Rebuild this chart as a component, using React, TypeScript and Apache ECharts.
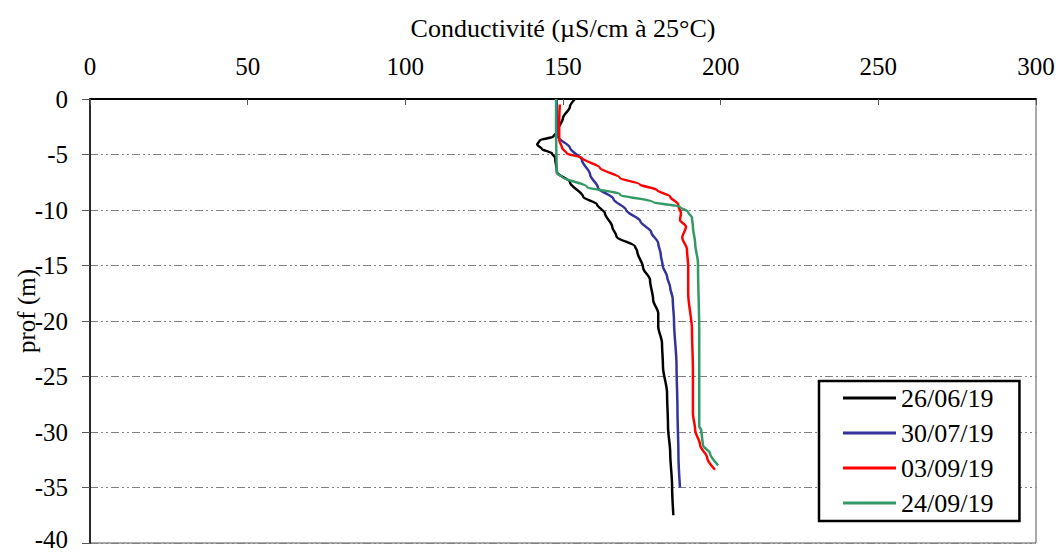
import React, { useEffect, useRef } from "react";
import * as echarts from "echarts";

// Conductivity profiles (µS/cm at 25 °C) against depth (m) for four survey dates
const SERIES_NAMES = ["26/06/19", "30/07/19", "03/09/19", "24/09/19"];
const SERIES_COLORS = ["#000000", "#333399", "#ff0000", "#339966"];

const depthJun = [0, -0.7, -1.7, -3, -3.4, -3.7, -4.1, -4.5, -4.9, -5.3, -6.6, -7.5, -8.8, -9.5, -10.3, -11.5, -12.4, -13.3, -13.7, -15.2, -16.3, -18.1, -19.3, -20.5, -22, -24.1, -26.5, -29.5, -31.9, -34.9, -37.5];
const condJun = [153.8, 152.2, 150, 148, 146.9, 142.7, 141.8, 143.3, 146.5, 147.5, 148.1, 152.2, 156.4, 160.8, 163.3, 165.6, 167, 172.9, 173.5, 175.4, 177.6, 178.6, 180.2, 180.2, 181.4, 181.7, 183, 183.3, 184, 184.6, 185];

const depthJul = [0, -3, -3.4, -4.4, -5.5, -6.8, -8, -9, -10, -11, -12, -13, -14, -15, -16, -17, -18, -20, -24, -28, -32, -35];
const condJul = [148, 148.2, 148.4, 152.2, 156, 158.6, 161.1, 166, 170, 174.5, 178, 180.2, 181, 181.6, 183, 184, 184.8, 185.2, 186, 186.3, 186.6, 187.1];

const depthSep3 = [-0.5, -2, -3.7, -4.4, -4.9, -5.3, -6.2, -7.1, -7.7, -8.2, -8.8, -9.5, -10.3, -10.9, -11.5, -12.5, -13.5, -15.1, -17.5, -20.8, -24.4, -28.3, -29.8, -31.2, -32.3, -33.4];
const condSep3 = [149, 148.8, 148.8, 149.7, 151.2, 156, 161.7, 168, 174.4, 179.8, 184, 186.5, 187.4, 187.1, 189, 187.8, 189.3, 189.7, 189.7, 190.9, 191.2, 191.2, 191.9, 193.5, 195.7, 198.2];

const depthSep24 = [0, -3, -6.7, -7, -7.9, -8.6, -9.3, -9.7, -10.2, -10.7, -11.5, -13, -14.8, -20.8, -29.5, -29.8, -30.5, -31.2, -31.9, -33];
const condSep24 = [147.8, 147.8, 148, 149.7, 157.6, 168.1, 178.6, 187.1, 189.7, 190.9, 191.2, 191.9, 192.8, 193.2, 193.2, 193.8, 194.1, 194.4, 196.6, 199.2];

const PROFILES = [
  { cond: condJun, depth: depthJun },
  { cond: condJul, depth: depthJul },
  { cond: condSep3, depth: depthSep3 },
  { cond: condSep24, depth: depthSep24 },
];

const X_TITLE = "Conductivité (µS/cm à 25°C)";
const Y_TITLE = "prof (m)";
const DEPTH_MIN = -40;

const FONT = "Liberation Serif";

export default function App() {
  const ref = useRef<HTMLDivElement>(null);

  useEffect(() => {
    if (!ref.current) return;
    const chart = echarts.init(ref.current, null, { renderer: "svg" });

    const series = PROFILES.map((p, i) => ({
      name: SERIES_NAMES[i],
      type: "line",
      data: p.cond.map((c, k) => [c, p.depth[k]]),
      symbol: "none",
      smooth: 0.3,
      smoothMonotone: "y",
      lineStyle: { color: SERIES_COLORS[i], width: 2.5 },
      itemStyle: { color: SERIES_COLORS[i] },
      z: 3 + i,
    }));

    chart.setOption({
      animation: false,
      backgroundColor: "#ffffff",
      textStyle: { fontFamily: FONT },
      grid: {
        left: 90,
        top: 99,
        width: 946,
        height: 444,
        containLabel: false,
        outerBoundsMode: "none",
        show: true,
        borderColor: "#555555",
        borderWidth: 1,
      },
      // vertical depth title, placed beside the depth tick labels
      graphic: [
        {
          type: "text",
          x: 26,
          y: 311,
          rotation: Math.PI / 2,
          style: {
            text: Y_TITLE,
            fontFamily: FONT,
            fontSize: 25,
            fill: "#000",
            align: "center",
            verticalAlign: "middle",
          },
        },
      ],
      xAxis: {
        type: "value",
        position: "top",
        min: 0,
        max: 300,
        interval: 50,
        name: X_TITLE,
        nameLocation: "middle",
        nameGap: 58,
        nameTextStyle: { fontFamily: FONT, fontSize: 26, color: "#000" },
        axisLine: { show: true, lineStyle: { color: "#000", width: 2 } },
        axisTick: { show: true, inside: true, length: 6, lineStyle: { color: "#555", width: 1 } },
        axisLabel: { margin: 20, fontFamily: FONT, fontSize: 25, color: "#000" },
        splitLine: { show: false },
      },
      yAxis: {
        type: "value",
        min: DEPTH_MIN,
        max: 0,
        interval: 5,
        axisLine: { show: true, onZero: false, lineStyle: { color: "#000", width: 1.5 } },
        axisTick: { show: true, inside: false, length: 8, lineStyle: { color: "#555", width: 1 } },
        axisLabel: {
          margin: 22,
          fontFamily: FONT,
          fontSize: 25,
          color: "#000",
          formatter: (v: number) => (v === DEPTH_MIN ? `{last|${v}}` : `${v}`),
          rich: {
            last: { fontFamily: FONT, fontSize: 25, color: "#000", padding: [0, 0, 8, 0] },
          },
        },
        splitLine: {
          show: true,
          lineStyle: { color: "#808080", width: 1.2, type: [8, 3, 2, 3, 2, 3] },
        },
      },
      legend: {
        data: SERIES_NAMES,
        orient: "vertical",
        left: 819,
        top: 381,
        padding: [4, 26, 5, 24],
        itemGap: 9,
        itemWidth: 53,
        itemHeight: 3,
        icon: "rect",
        borderColor: "#000",
        borderWidth: 2.5,
        backgroundColor: "#fff",
        textStyle: { fontFamily: FONT, fontSize: 26, color: "#000" },
      },
      series,
    });

    return () => chart.dispose();
  }, []);

  return (
    <div
      ref={ref}
      style={{ position: "fixed", left: 0, top: 0, width: 1060, height: 552 }}
    />
  );
}
